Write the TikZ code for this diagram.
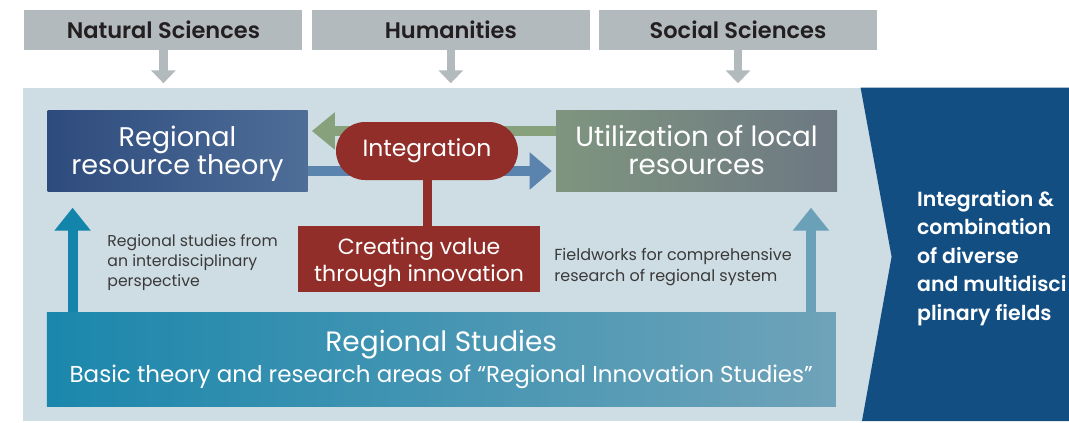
\documentclass[tikz,border=0pt]{standalone}
\usepackage{fontspec}
\setmainfont{Poppins}
\IfFontExistsTF{Poppins SemiBold}{\newfontfamily\semib{Poppins SemiBold}}{\newcommand\semib{\bfseries}}
\usepackage{xcolor}
\usepackage{tikz}
\usetikzlibrary{shapes,arrows.meta,positioning}

\definecolor{hdrgray}{HTML}{B2BABD}
\definecolor{hdrtext}{HTML}{231F20}
\definecolor{panelbg}{HTML}{CEDCE3}
\definecolor{chevblue}{HTML}{124E82}
\definecolor{resleft}{HTML}{2E4B7D}
\definecolor{resright}{HTML}{4E6E98}
\definecolor{utilleft}{HTML}{7F957F}
\definecolor{utilright}{HTML}{6D7883}
\definecolor{innored}{HTML}{922E29}
\definecolor{backgreen}{HTML}{87A17C}
\definecolor{forthblue}{HTML}{5A84AE}
\definecolor{studleft}{HTML}{1B87AC}
\definecolor{studright}{HTML}{6FA3B9}
\definecolor{riseleft}{HTML}{1385AA}
\definecolor{riseright}{HTML}{6AA0B8}
\definecolor{notetext}{HTML}{3A3A3A}

\begin{document}
\begin{tikzpicture}[x=1pt, y=-1pt, thick]

\tikzstyle{header}=[fill=hdrgray, text=hdrtext, font=\fontsize{22.5}{24}\selectfont\semib, minimum width=278pt, minimum height=40pt, inner sep=0pt]
\tikzstyle{block}=[minimum height=81pt, text=white, align=center, inner sep=0pt, font=\fontsize{27}{28}\selectfont]
\tikzstyle{note}=[anchor=west, align=left, inner sep=0pt, text=notetext]
\tikzstyle{feed}=[-{Triangle[width=24pt,length=13pt]}, line width=8.6pt, draw=hdrgray, shorten >=4.4pt]
\tikzstyle{flow}=[line width=10pt, shorten >=4pt]
\tikzstyle{rise}=[-{Triangle[width=35pt,length=23pt]}, line width=10pt, shorten >=16.3pt]

\useasboundingbox (0,0) rectangle (1069,423);

% background panel and chevron
\node[fill=panelbg, anchor=north west, minimum width=872pt, minimum height=333pt, inner sep=0pt] (Panel) at (22.4,87.7) {};
\fill[chevblue] (860.6,87.7) -- (1069,87.7) -- (1069,421) -- (862,421) -- (891.6,256.7) -- cycle;
\node[note, text=white, font=\fontsize{20.5}{28.5}\selectfont\semib] (Fields) at (916.7,258)
  {Integration \&\\combination\\of diverse\\and multidisci\\plinary fields};

% disciplines
\node[header] (NatSci) at (163.4,30) {Natural Sciences};
\node[header] (Human) at (450.8,30) {Humanities};
\node[header] (SocSci) at (738,30) {Social Sciences};

\path
(NatSci.south) edge[feed] (NatSci.south |- Panel.north)
(Human.south) edge[feed] (Human.south |- Panel.north)
(SocSci.south) edge[feed] (SocSci.south |- Panel.north);

% resources
\node[block, minimum width=260pt, text depth=0pt, left color=resleft, right color=resright] (Resource) at (177.5,150.5)
  {Regional\\resource theory};
\node[block, minimum width=281pt, left color=utilleft, right color=utilright, font=\fontsize{27.8}{28}\selectfont] (Util) at (696.6,150.5)
  {Utilization of local\\resources};

\path
([yshift=19.5pt]Util.west) edge[flow, draw=backgreen, -{Triangle[width=36pt,length=23pt]}] ([yshift=19.5pt]Resource.east)
([yshift=-20.5pt]Resource.east) edge[flow, draw=forthblue, -{Triangle[width=36pt,length=22pt]}] ([yshift=-20.5pt]Util.west);

\node[rounded rectangle, fill=innored, text=white, minimum width=182pt, minimum height=58pt, inner sep=0pt,
  font=\fontsize{23.5}{24}\selectfont] (Integ) at (427,151) {Integration};
\node[block, fill=innored, minimum width=242pt, minimum height=66pt, text depth=0pt, font=\fontsize{22}{27}\selectfont] (Create) at (419.1,259.2)
  {Creating value\\through innovation};
\draw[innored, line width=9pt] (Integ.south) -- (Integ.south |- Create.north);

% regional studies
\node[block, minimum width=789pt, minimum height=93.3pt, left color=studleft, right color=studright,
  font=\fontsize{23}{24}\selectfont] (RegStud) at (441.3,359.4)
  {{\fontsize{28}{30}\selectfont Regional Studies}\\[4pt]Basic theory and research areas of ``Regional Innovation Studies''};

\coordinate (FootL) at ([xshift=26.2pt]RegStud.north west);
\coordinate (FootR) at ([xshift=-25.2pt]RegStud.north east);
\draw[rise, riseleft] (FootL) -- (FootL |- Resource.south);
\draw[rise, riseright] (FootR) -- (FootR |- Util.south);

\node[note, font=\fontsize{15.7}{20}\selectfont] (NoteL) at (107,262.5)
  {Regional studies from\\an interdisciplinary\\perspective};
\node[note, font=\fontsize{16}{21}\selectfont] (NoteR) at (554,267.5)
  {Fieldworks for comprehensive\\research of regional system};

\end{tikzpicture}
\end{document}
